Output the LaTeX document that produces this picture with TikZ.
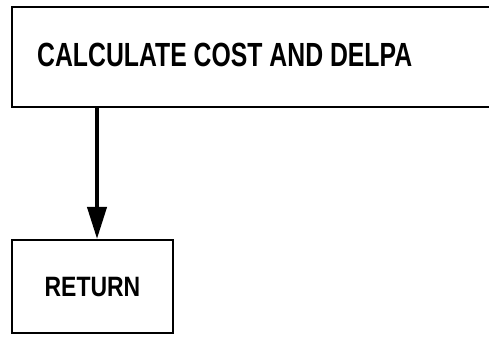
\documentclass[tikz,border=0pt]{standalone}
\usepackage{fontspec}
\setmainfont{Liberation Sans}
\usetikzlibrary{arrows.meta}
\begin{document}
\begin{tikzpicture}[x=1pt,y=1pt,
  box/.style={draw=black, line width=2pt, rectangle, inner sep=0pt},
  edge/.style={draw=black, line width=2pt},
  bigtext/.style={font=\bfseries\fontsize{33.5}{36}\selectfont, inner sep=0pt},
  smalltext/.style={font=\bfseries\fontsize{28}{31}\selectfont, inner sep=0pt},
  flow/.style={draw=black, line width=4pt, -{Triangle[length=32pt,width=19pt]}}]
  \useasboundingbox[fill=white] (0,0) rectangle (489,337);
  % process box, open towards the right page edge
  \node[minimum width=520pt, minimum height=100pt, anchor=north west, inner sep=0pt] (calc) at (12,330) {};
  \draw[edge] (calc.north east) -- (calc.north west) -- (calc.south west) -- (calc.south east);
  \node[bigtext, anchor=west] (calctext) at (37,282) {\scalebox{0.74}[1]{CALCULATE COST AND DELPA}};
  % terminal box
  \node[box, minimum width=161pt, minimum height=93pt] (ret) at (92.5,50.5) {};
  \node[smalltext] (rettext) at ([yshift=-0.5pt]ret.center) {\scalebox{0.82}[1]{RETURN}};
  % flow line
  \draw[flow] ([xshift=4.5pt]ret.north |- calc.south) -- ([xshift=4.5pt]ret.north);
\end{tikzpicture}
\end{document}
